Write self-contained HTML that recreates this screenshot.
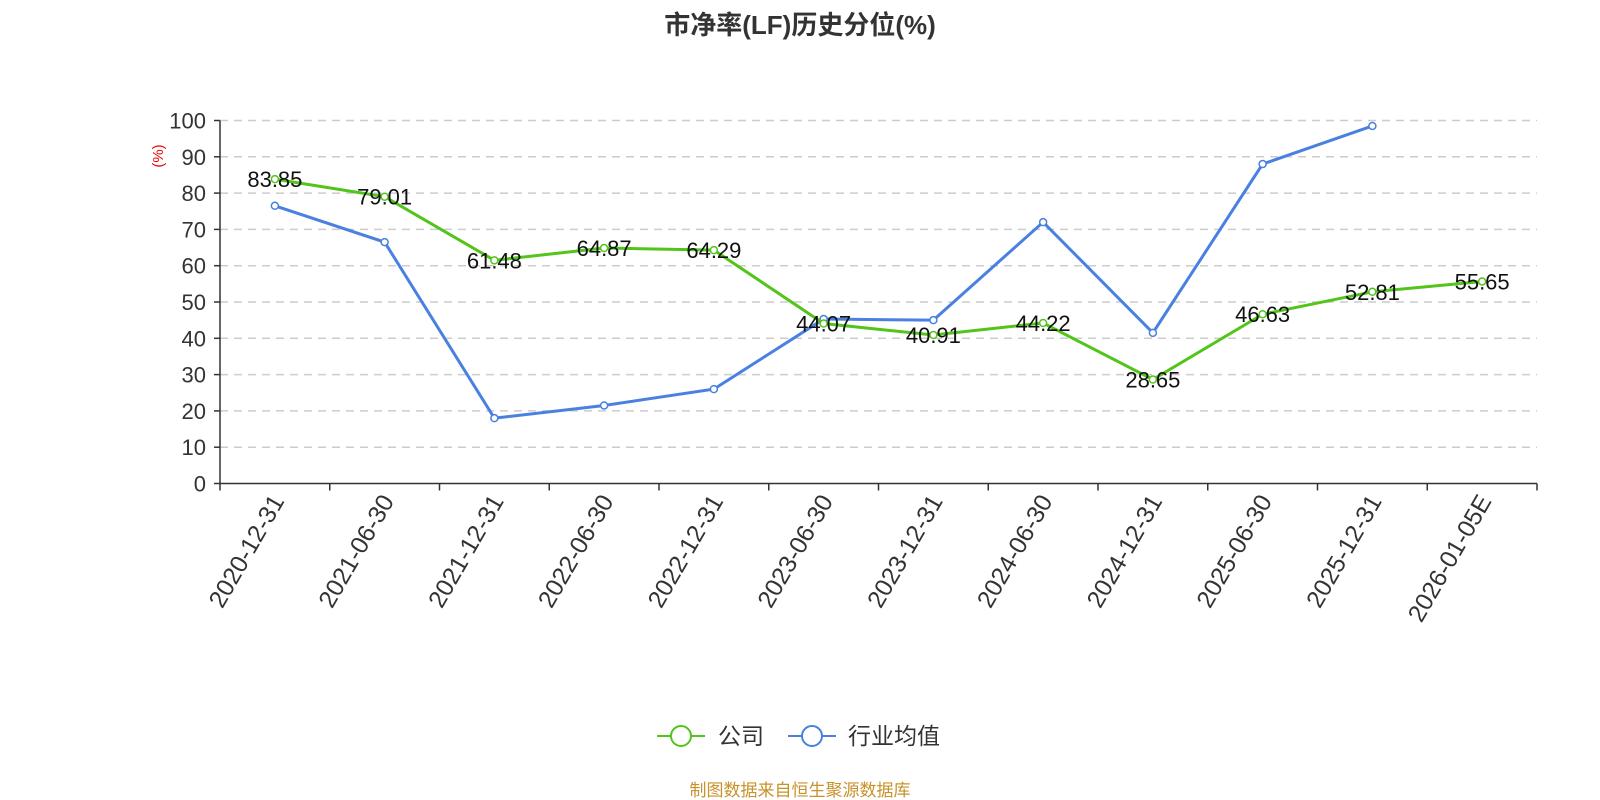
<!DOCTYPE html>
<html><head><meta charset="utf-8"><style>body{margin:0;background:#fff}svg{display:block}</style></head><body>
<svg width="1600" height="800" xmlns="http://www.w3.org/2000/svg" font-family="'Liberation Sans','Noto Sans CJK SC',sans-serif">
<text x="800" y="34" text-anchor="middle" font-size="26" font-weight="bold" fill="#333">市净率(LF)历史分位(%)</text>
<text x="163" y="156" font-size="15" fill="#e00" transform="rotate(-90 163 156)" text-anchor="middle">(%)</text>
<g id="grid"></g>
<g id="main"></g>
<g transform="translate(690,736)">
<line x1="-33" y1="0" x2="15" y2="0" stroke="#52c41a" stroke-width="2"/><circle cx="-9" cy="0" r="10" fill="#fff" stroke="#52c41a" stroke-width="2"/>
<text x="28" y="8" font-size="23" fill="#333">公司</text>
<line x1="98" y1="0" x2="146" y2="0" stroke="#4a80e0" stroke-width="2"/><circle cx="122" cy="0" r="10" fill="#fff" stroke="#4a80e0" stroke-width="2"/>
<text x="158" y="8" font-size="23" fill="#333">行业均值</text>
</g>
<text x="800" y="796" text-anchor="middle" font-size="17" fill="#c8922a">制图数据来自恒生聚源数据库</text>
</svg>
<script>
const ns="http://www.w3.org/2000/svg";const g=document.getElementById('main');const gr=document.getElementById('grid');
function el(t,a,p){const e=document.createElementNS(ns,t);for(const k in a)e.setAttribute(k,a[k]);(p||g).appendChild(e);return e}
const L=220,R=1537,T=120.5,B=483.5;const Y=v=>B-(B-T)*v/100;const w=(R-L)/12;const X=i=>L+w/2+i*w;
for(let v=0;v<=100;v+=10){if(v>0)el('line',{x1:L,x2:R,y1:Y(v),y2:Y(v),stroke:'#ccc','stroke-dasharray':'8,6','stroke-width':1.5},gr);
const t=el('text',{x:206,y:Y(v)+8,'text-anchor':'end','font-size':22,fill:'#333'},gr);t.textContent=v;
el('line',{x1:L-6,x2:L,y1:Y(v),y2:Y(v),stroke:'#333','stroke-width':1.5},gr);}
el('line',{x1:L,x2:L,y1:T,y2:B,stroke:'#333','stroke-width':1.5},gr);
el('line',{x1:L,x2:R,y1:B,y2:B,stroke:'#333','stroke-width':1.5},gr);
const cats=['2020-12-31','2021-06-30','2021-12-31','2022-06-30','2022-12-31','2023-06-30','2023-12-31','2024-06-30','2024-12-31','2025-06-30','2025-12-31','2026-01-05E'];
for(let i=0;i<=12;i++)el('line',{x1:L+i*w,x2:L+i*w,y1:B,y2:B+7,stroke:'#333','stroke-width':1.5},gr);
cats.forEach((c,i)=>{const x=X(i)+4,y=B+14;const t=el('text',{x:x,y:y+7,'text-anchor':'end','font-size':24.5,fill:'#333',transform:`rotate(-60 ${x} ${y})`},gr);t.textContent=c;});
const comp=[83.85,79.01,61.48,64.87,64.29,44.07,40.91,44.22,28.65,46.63,52.81,55.65];
const ind=[76.5,66.5,18,21.5,26,45.3,45,72,41.5,88,98.5];
function series(d,col){el('polyline',{points:d.map((v,i)=>X(i)+','+Y(v)).join(' '),fill:'none',stroke:col,'stroke-width':3});
d.forEach((v,i)=>el('circle',{cx:X(i),cy:Y(v),r:3.5,fill:'#fff',stroke:col,'stroke-width':1.5}));}
series(ind,'#4a80e0');series(comp,'#52c41a');
comp.forEach((v,i)=>{const t=el('text',{x:X(i),y:Y(v)+8,'text-anchor':'middle','font-size':22,fill:'#111'});t.textContent=v.toFixed(2);});
</script>
</body></html>
